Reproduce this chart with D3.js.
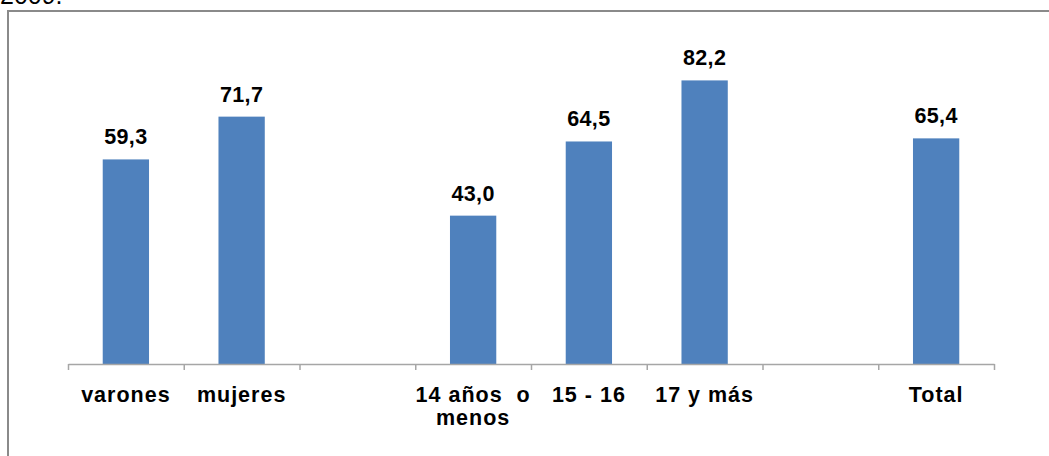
<!DOCTYPE html>
<html>
<head>
<meta charset="utf-8">
<script src="https://cdn.jsdelivr.net/npm/d3@7"></script>
<style>
  html, body { margin: 0; padding: 0; background: #fff; }
  svg { display: block; }
  text { font-family: "Liberation Sans", Arial, sans-serif; }
</style>
</head>
<body>
<svg id="chart" width="1049" height="456"></svg>
<script>
// ---- data ----
const categories = ["varones", "mujeres", "", "14 años  o\nmenos", "15 - 16", "17 y más", "", "Total"];
const values = [59.3, 71.7, null, 43.0, 64.5, 82.2, null, 65.4];
const valueLabels = ["59,3", "71,7", "", "43,0", "64,5", "82,2", "", "65,4"];
const titleText = "2009.";
const yMax = 90;

// ---- layout ----
const W = 1049, H = 456;
const plot = { left: 68, right: 994, top: 53.5, bottom: 364 };
const svg = d3.select("#chart");

// frame (clipped at right/bottom like the reference)
svg.append("rect")
  .attr("x", 8).attr("y", 11)
  .attr("width", W + 20).attr("height", H + 20)
  .attr("fill", "none").attr("stroke", "#8a8a8a").attr("stroke-width", 2);

// partially cut title (as in the reference)
svg.append("text")
  .attr("x", 0).attr("y", 4)
  .attr("font-size", 25)
  .attr("fill", "#000")
  .text(titleText);

const idx = d3.range(categories.length);
const x = d3.scaleBand().domain(idx).range([plot.left, plot.right]).paddingInner(0).paddingOuter(0);
const y = d3.scaleLinear().domain([0, yMax]).range([plot.bottom, plot.top]);
const xEdge = d3.scaleLinear().domain([0, categories.length]).range([plot.left, plot.right]);

const barW = x.bandwidth() * 0.4;
const data = idx.filter(i => values[i] != null).map(i => ({ i, v: values[i], lab: valueLabels[i] }));

// bars
svg.append("g").selectAll("rect")
  .data(data).join("rect")
  .attr("x", d => x(d.i) + (x.bandwidth() - barW) / 2)
  .attr("y", d => y(d.v))
  .attr("width", barW)
  .attr("height", d => y(0) - y(d.v))
  .attr("fill", "#4F81BD");

// value labels
svg.append("g").selectAll("text")
  .data(data).join("text")
  .attr("x", d => x(d.i) + x.bandwidth() / 2)
  .attr("y", d => y(d.v) - 15)
  .attr("text-anchor", "middle")
  .attr("font-size", 21.5)
  .attr("font-weight", "bold")
  .attr("letter-spacing", 0.4)
  .attr("fill", "#000")
  .text(d => d.lab);

// axis with boundary ticks
const axis = d3.axisBottom(xEdge)
  .tickValues(d3.range(categories.length + 1))
  .tickFormat("")
  .tickSize(6)
  .tickSizeOuter(0);
const gAxis = svg.append("g").attr("transform", `translate(0,${plot.bottom})`).call(axis);
gAxis.select(".domain").attr("stroke", "#a6a6a6").attr("stroke-width", 1.5);
gAxis.selectAll(".tick line").attr("stroke", "#a6a6a6").attr("stroke-width", 1.5);

// category labels
const gCat = svg.append("g");
idx.forEach(i => {
  const lines = categories[i].split("\n");
  const t = gCat.append("text")
    .attr("x", x(i) + x.bandwidth() / 2)
    .attr("y", 402)
    .attr("text-anchor", "middle")
    .attr("font-size", 21.5)
    .attr("font-weight", "bold")
    .attr("letter-spacing", 1)
    .attr("fill", "#000")
    .attr("xml:space", "preserve")
    .style("white-space", "pre");
  lines.forEach((ln, k) => {
    t.append("tspan")
      .attr("x", x(i) + x.bandwidth() / 2)
      .attr("dy", k === 0 ? 0 : 23)
      .text(ln);
  });
});
</script>
</body>
</html>
